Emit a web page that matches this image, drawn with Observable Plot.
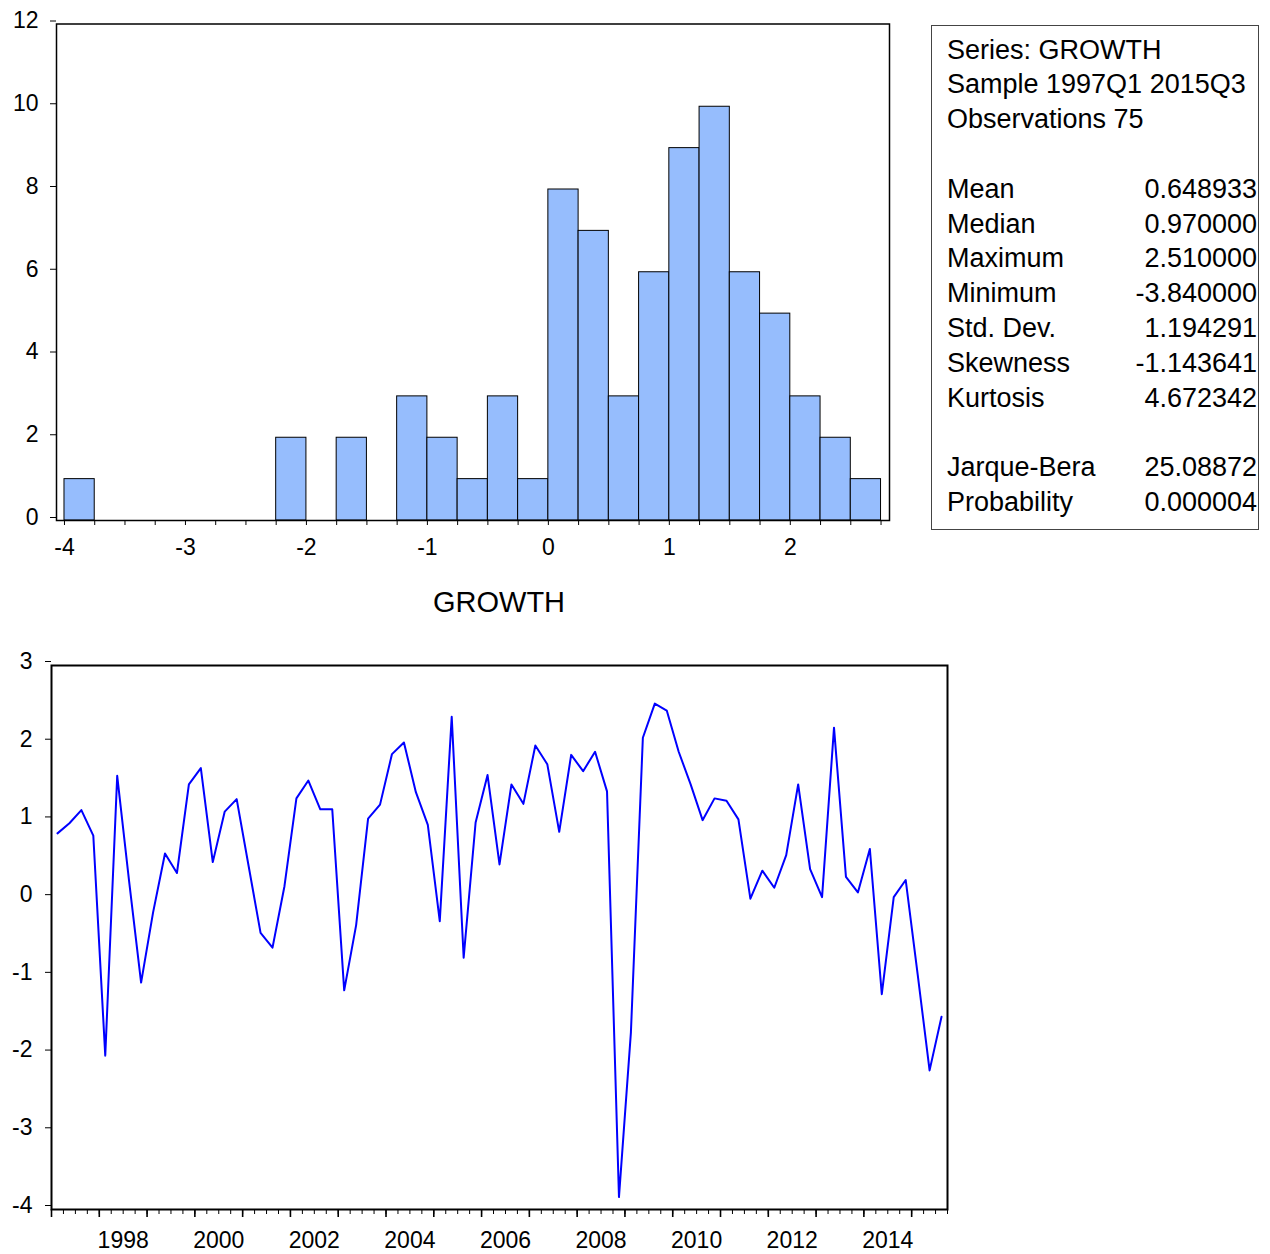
<!DOCTYPE html>
<html>
<head>
<meta charset="utf-8">
<script src="https://cdn.jsdelivr.net/npm/d3@7"></script>
<script src="https://cdn.jsdelivr.net/npm/@observablehq/plot@0.6"></script>
<style>
  html, body { margin: 0; padding: 0; background: #fff; }
  body { font-family: "Liberation Sans", Arial, Helvetica, sans-serif; color: #000; }
  #wrap { position: relative; width: 1270px; height: 1254px; overflow: hidden; }
  #hist { position: absolute; left: 0; top: 0; }
  #line { position: absolute; left: 0; top: 640px; }
  #stats { position: absolute; left: 931px; top: 25px; width: 328px; height: 505px;
           box-sizing: border-box; border: 1px solid #444; font-size: 27px; }
  #stats .row { position: absolute; left: 15px; right: 1px; height: 34px; line-height: 34px; white-space: nowrap; }
  #stats .row .v { position: absolute; right: 0; top: 0; }
  #title { position: absolute; left: 499px; top: 602px; transform: translate(-50%, -50%);
           font-size: 29px; white-space: nowrap; }
</style>
</head>
<body>
<div id="wrap">
  <div id="hist"></div>
  <div id="stats"></div>
  <div id="title"></div>
  <div id="line"></div>
</div>
<script>
// ---------------- data ----------------
const seriesName = "GROWTH";
const startYear = 1997;            // 1997Q1
const growth = [
  0.84, 0.97, 1.14, 0.81, -2.02, 1.58, 0.22, -1.08, -0.18, 0.58,
  0.33, 1.47, 1.68, 0.47, 1.12, 1.28, 0.42, -0.44, -0.63, 0.16,
  1.29, 1.52, 1.15, 1.15, -1.18, -0.34, 1.03, 1.21, 1.86, 2.01,
  1.37, 0.95, -0.29, 2.34, -0.76, 0.98, 1.59, 0.44, 1.47, 1.22,
  1.97, 1.73, 0.86, 1.85, 1.64, 1.89, 1.38, -3.84, -1.72, 2.07,
  2.51, 2.42, 1.89, 1.47, 1.01, 1.29, 1.26, 1.02, 0.00, 0.36,
  0.14, 0.56, 1.47, 0.38, 0.02, 2.20, 0.28, 0.08, 0.64, -1.23,
  0.02, 0.24, -0.97, -2.21, -1.52
];

// histogram bins (lower edge, width 0.25) and counts
const binWidth = 0.25;
const binStarts = [-4, -3.75, -3.5, -3.25, -3, -2.75, -2.5, -2.25, -2, -1.75, -1.5, -1.25, -1, -0.75, -0.5, -0.25,
                   0, 0.25, 0.5, 0.75, 1, 1.25, 1.5, 1.75, 2, 2.25, 2.5];
const binCounts = [1, 0, 0, 0, 0, 0, 0, 2, 0, 2, 0, 3, 2, 1, 3, 1,
                   8, 7, 3, 6, 9, 10, 6, 5, 3, 2, 1];

const histYTicks = [0, 2, 4, 6, 8, 10, 12];
const histXLabels = [-4, -3, -2, -1, 0, 1, 2];

const lineYTicks = [-4, -3, -2, -1, 0, 1, 2, 3];
const yearLabels = [1998, 2000, 2002, 2004, 2006, 2008, 2010, 2012, 2014];

const statsHeader = ["Series: GROWTH", "Sample 1997Q1 2015Q3", "Observations 75"];
const statNames = ["Mean", "Median", "Maximum", "Minimum", "Std. Dev.", "Skewness", "Kurtosis"];
const statValues = ["0.648933", "0.970000", "2.510000", "-3.840000", "1.194291", "-1.143641", "4.672342"];
const testNames = ["Jarque-Bera", "Probability"];
const testValues = ["25.08872", "0.000004"];

// ---------------- styling ----------------
const FONT = '"Liberation Sans", Arial, Helvetica, sans-serif';
const barFill = "#96bdfd";
const lineColor = "#0000ff";

// ---------------- histogram ----------------
const bins = binStarts.map((s, i) => ({x1: s, x2: s + binWidth, count: binCounts[i]})).filter(d => d.count > 0);
const histTicks = d3.range(binStarts[0], binStarts[binStarts.length - 1] + binWidth + 1e-9, binWidth);
const isLabelTick = d => {
  const r = Math.round(d * 1000) / 1000;
  return Number.isInteger(r) && histXLabels.includes(r);
};

const hist = Plot.plot({
  width: 905, height: 565,
  marginLeft: 56, marginRight: 16, marginTop: 23.5, marginBottom: 45,
  x: {domain: [-4.066, 2.82], label: null},
  y: {domain: [0, 12], label: null},
  style: {fontFamily: FONT, fontSize: "23px", color: "#000", background: "transparent", overflow: "visible"},
  marks: [
    Plot.rectY(bins, {x1: "x1", x2: "x2", y: "count", fill: barFill, stroke: "#000", strokeWidth: 1,
                      insetLeft: 0, insetRight: 0, insetTop: 0, insetBottom: 0}),
    Plot.axisX({ticks: histTicks, tickSize: 5, tickPadding: 13, strokeWidth: 1, label: null,
                tickFormat: d => isLabelTick(d) ? String(Math.round(d)) : ""}),
    Plot.axisY({ticks: histYTicks, tickSize: 6, tickPadding: 12, dy: -3, label: null, tickFormat: d => String(d)}),
    Plot.frame({stroke: "#000", strokeWidth: 1.5})
  ]
});
document.getElementById("hist").appendChild(hist);

// ---------------- stats box ----------------
const statsEl = document.getElementById("stats");
const lineH = 34.8, firstTop = 6.6;
function addRow(idx, label, value) {
  const r = document.createElement("div");
  r.className = "row";
  r.style.top = (firstTop + idx * lineH) + "px";
  r.textContent = label;
  if (value !== undefined) {
    const v = document.createElement("span");
    v.className = "v";
    v.textContent = value;
    r.appendChild(v);
  }
  statsEl.appendChild(r);
}
statsHeader.forEach((t, i) => addRow(i, t));
statNames.forEach((n, i) => addRow(4 + i, n, statValues[i]));
testNames.forEach((n, i) => addRow(12 + i, n, testValues[i]));

document.getElementById("title").textContent = seriesName;

// ---------------- line chart ----------------
const series = growth.map((v, i) => ({t: startYear + i / 4 + 0.125, v}));
const endT = startYear + growth.length / 4;
const quarterTicks = d3.range(startYear, endT + 1e-9, 0.25);
const yearTicks = d3.range(startYear, Math.floor(endT) + 1, 1);

const line = Plot.plot({
  width: 965, height: 614,
  marginLeft: 51, marginRight: 18, marginTop: 25, marginBottom: 45,
  x: {domain: [startYear, endT], label: null},
  y: {domain: [-4, 3], label: null},
  style: {fontFamily: FONT, fontSize: "23px", color: "#000", background: "transparent", overflow: "visible"},
  marks: [
    Plot.axisX({ticks: quarterTicks, tickSize: 5, label: null, tickFormat: () => ""}),
    Plot.axisX({ticks: yearTicks, tickSize: 8, strokeWidth: 1.6, label: null, tickFormat: () => ""}),
    Plot.axisX({ticks: yearLabels.map(y => y + 0.5), tickSize: 0, tickPadding: 22, label: null,
                tickFormat: d => String(Math.floor(d))}),
    Plot.axisY({ticks: lineYTicks, tickSize: 6, tickPadding: 13, dy: -4, label: null, tickFormat: d => String(d)}),
    Plot.lineY(series, {x: "t", y: "v", stroke: lineColor, strokeWidth: 2}),
    Plot.frame({stroke: "#000", strokeWidth: 2})
  ]
});
document.getElementById("line").appendChild(line);
</script>
</body>
</html>
